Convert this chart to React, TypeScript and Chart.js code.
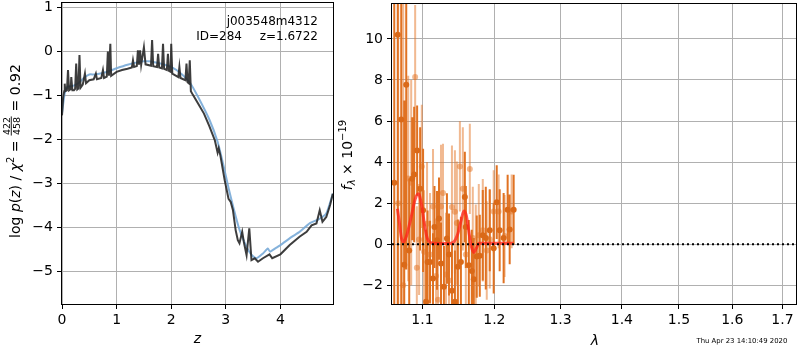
import React, { useEffect, useRef } from "react";
import { Chart, registerables } from "chart.js";

Chart.register(...registerables);

// ---------- data ----------
const zTicks = [0, 1, 2, 3, 4];
const logpTicks = [-5, -4, -3, -2, -1, 0, 1];
const lamTicks = [1.1, 1.2, 1.3, 1.4, 1.5, 1.6, 1.7];
const fluxTicks = [-2, 0, 2, 4, 6, 8, 10];

const zBlue = [0, 0.05, 0.1, 0.2, 0.3, 0.4, 0.5, 0.6, 0.8, 1.0, 1.2, 1.4, 1.5, 1.6, 1.8, 2.0, 2.2, 2.35, 2.5, 2.7, 2.85, 2.95, 3.05, 3.15, 3.25, 3.38, 3.47, 3.56, 3.68, 3.77, 3.81, 3.9, 4.0, 4.2, 4.35, 4.54, 4.69, 4.84, 4.96];
const logpBlue = [-1.4, -0.95, -0.8, -0.78, -0.72, -0.6, -0.52, -0.52, -0.47, -0.38, -0.3, -0.24, -0.22, -0.22, -0.27, -0.35, -0.52, -0.72, -1.05, -1.55, -2.05, -2.55, -3.1, -3.6, -4.05, -4.44, -4.62, -4.7, -4.59, -4.48, -4.55, -4.48, -4.4, -4.22, -4.1, -3.9, -3.82, -3.68, -3.23];

const zDark = [0, 0.02, 0.04, 0.05, 0.06, 0.09, 0.11, 0.13, 0.16, 0.17, 0.19, 0.22, 0.24, 0.26, 0.28, 0.3, 0.32, 0.34, 0.38, 0.42, 0.44, 0.5, 0.58, 0.62, 0.64, 0.72, 0.75, 0.77, 0.82, 0.84, 0.86, 0.885, 0.9, 1.0, 1.1, 1.2, 1.28, 1.3, 1.32, 1.37, 1.39, 1.41, 1.43, 1.45, 1.5, 1.53, 1.63, 1.65, 1.67, 1.74, 1.76, 1.78, 1.83, 1.85, 1.87, 1.92, 1.94, 1.96, 1.99, 2.0, 2.02, 2.13, 2.15, 2.17, 2.26, 2.28, 2.3, 2.32, 2.34, 2.36, 2.4, 2.5, 2.6, 2.7, 2.8, 2.85, 2.87, 2.9, 2.98, 3.05, 3.09, 3.13, 3.18, 3.22, 3.25, 3.3, 3.33, 3.38, 3.43, 3.47, 3.53, 3.59, 3.68, 3.8, 3.85, 4.0, 4.17, 4.35, 4.48, 4.57, 4.66, 4.72, 4.77, 4.84, 4.91, 4.96];
const logpDark = [-1.45, -1.05, -0.9, -0.73, -0.9, -0.88, -0.42, -0.88, -0.85, -0.58, -0.88, -0.88, -0.85, -0.27, -0.86, -0.84, -0.08, -0.82, -0.75, -0.5, -0.72, -0.65, -0.63, -0.5, -0.63, -0.6, -0.42, -0.6, -0.57, 0.0, -0.55, 0.18, -0.55, -0.46, -0.42, -0.39, -0.36, -0.2, -0.35, -0.33, 0.03, -0.3, 0.03, -0.3, 0.1, -0.29, -0.32, 0.26, -0.33, -0.35, -0.05, -0.36, -0.38, 0.18, -0.39, -0.42, -0.05, -0.44, -0.46, 0.18, -0.5, -0.58, -0.35, -0.6, -0.65, -0.27, -0.7, -0.72, -0.2, -0.9, -0.99, -1.2, -1.41, -1.7, -2.02, -2.3, -2.2, -2.36, -2.93, -3.35, -3.42, -3.6, -4.06, -4.29, -4.36, -4.1, -4.33, -4.63, -4.02, -4.74, -4.7, -4.78, -4.7, -4.61, -4.7, -4.61, -4.4, -4.21, -4.1, -3.95, -3.91, -3.61, -3.87, -3.76, -3.49, -3.23];

const lamDark = [1.0632, 1.0677, 1.0722, 1.0761, 1.0787, 1.0826, 1.0865, 1.0891, 1.093, 1.097, 1.1009, 1.1049, 1.1069, 1.1102, 1.1142, 1.1162, 1.1196, 1.1223, 1.125, 1.129, 1.1331, 1.1359, 1.14, 1.1441, 1.1482, 1.1524, 1.1579, 1.1593, 1.1635, 1.1677, 1.1705, 1.1747, 1.179, 1.1833, 1.1876, 1.1933, 1.199, 1.2034, 1.2077, 1.2135, 1.2194, 1.2224, 1.2283];
const fluxDark = [3.0, 10.2, 6.07, -1.0, 7.77, -0.3, 3.19, 3.4, 4.56, 2.7, 1.65, -2.8, -0.86, -0.86, -1.67, 0.84, 0.19, 1.25, -0.94, -2.07, 0.28, -0.5, -2.26, -2.8, -1.1, -0.86, 2.3, 0.84, -1.02, -1.3, -1.7, -0.6, -0.56, 0.44, 0.3, 0.68, -0.2, 2.05, 0.68, 0.3, 1.68, 0.72, 1.68];
const errDark = [20, 15, 12, 8, 9, 3.5, 3, 3.3, 2.2, 3, 3, 3.5, 2.5, 2, 2.2, 2, 2.4, 2, 2, 2, 2.2, 2, 2.3, 2.5, 2.3, 2.2, 2.2, 2, 2.2, 2, 2, 2, 2, 2.2, 2.5, 2, 2.2, 1.8, 2, 2.2, 1.7, 1.7, 1.7];

const lamLight = [1.0683, 1.0748, 1.0813, 1.0852, 1.0904, 1.0926, 1.0956, 1.0992, 1.1022, 1.1062, 1.1102, 1.1142, 1.1183, 1.1209, 1.125, 1.1277, 1.1318, 1.1359, 1.14, 1.1441, 1.1468, 1.151, 1.1551, 1.1593, 1.1649, 1.1691, 1.1733, 1.1776, 1.1833, 1.189, 1.1933, 1.199, 1.2062, 1.2149, 1.2253];
const fluxLight = [2, -2, 3.2, 3.0, 8.15, -1.15, 0.23, 3.79, -0.37, 1.0, -0.5, 1.84, -1.55, -2.7, 1.84, 2.49, -1.47, -1.76, 1.81, 1.58, 1.03, 3.79, 2.7, -0.5, 3.67, 0.3, -0.56, 0.44, 0.68, -0.3, 0.24, 1.6, 1.6, 0.4, 1.6];
const errLight = [20, 15, 5, 5, 3.5, 3, 2.7, 3, 3, 3, 3, 2.8, 2.8, 3, 3, 2.4, 3, 2.8, 3, 3, 3, 2.2, 3, 3, 2.2, 2.5, 2.5, 2.5, 2.5, 2.4, 2.4, 2, 1.8, 2, 1.8];

const lamModel = [1.0673, 1.07, 1.0725, 1.0752, 1.079, 1.085, 1.0905, 1.0947, 1.099, 1.103, 1.1066, 1.111, 1.12, 1.135, 1.142, 1.148, 1.153, 1.1565, 1.16, 1.164, 1.167, 1.1706, 1.174, 1.178, 1.19, 1.228];
const fluxModel = [1.73, 1.0, 0.3, 0.11, 0.4, 1.3, 2.2, 2.46, 1.9, 0.9, 0.28, 0.08, 0.04, 0.04, 0.1, 0.5, 1.2, 1.62, 1.4, 0.5, -0.1, -0.4, -0.2, 0.05, 0.05, 0.05];

const lamZero = [1.0603, 1.728];
const fluxZero = [0, 0];

// ---------- helpers ----------
const FONT = '"DejaVu Sans"';
const fmt = (v: number) => (v < 0 ? "\u2212" + Math.abs(v) : String(v));
const pts = (xs: number[], ys: number[]) => xs.map((x, i) => ({ x, y: ys[i] }));
const bars = (xs: number[], ys: number[], es: number[]) =>
  xs.flatMap((x, i) => [
    { x, y: ys[i] - es[i] },
    { x, y: ys[i] + es[i] },
    { x, y: null as any },
  ]);

type Seg = { t?: string; size: number; italic?: boolean; dy?: number; num?: string; den?: string };
const fontOf = (s: Seg) => `${s.italic ? "italic " : ""}${s.size}px ${FONT}`;

function drawRich(ctx: CanvasRenderingContext2D, segs: Seg[], cx: number, cy: number, rotate: boolean) {
  ctx.save();
  ctx.translate(cx, cy);
  if (rotate) ctx.rotate(-Math.PI / 2);
  ctx.fillStyle = "#000";
  ctx.textBaseline = "alphabetic";
  ctx.textAlign = "left";
  const widths = segs.map((s) => {
    ctx.font = fontOf(s);
    if (s.num !== undefined) return Math.max(ctx.measureText(s.num).width, ctx.measureText(s.den || "").width) + 2;
    return ctx.measureText(s.t || "").width;
  });
  const total = widths.reduce((a, b) => a + b, 0);
  let x = -total / 2;
  segs.forEach((s, i) => {
    ctx.font = fontOf(s);
    const w = widths[i];
    if (s.num !== undefined) {
      ctx.textAlign = "center";
      ctx.fillText(s.num, x + w / 2, -10.5);
      ctx.fillText(s.den || "", x + w / 2, 0);
      ctx.fillRect(x + 0.5, -9.2, w - 1, 0.9);
      ctx.textAlign = "left";
    } else {
      ctx.fillText(s.t || "", x, s.dy || 0);
    }
    x += w;
  });
  ctx.restore();
}

const framePlugin = {
  id: "frame",
  afterDatasetsDraw(chart: any) {
    const { ctx, chartArea: a } = chart;
    ctx.save();
    ctx.strokeStyle = "#000";
    ctx.lineWidth = 1;
    ctx.strokeRect(Math.round(a.left) - 0.5, Math.round(a.top) - 0.5, Math.round(a.right - a.left) + 1, Math.round(a.bottom - a.top) + 1);
    ctx.restore();
  },
};

const gridOpts = {
  color: "#b0b0b0",
  lineWidth: 1,
  drawTicks: true,
  tickLength: 5,
  tickColor: "#000",
  tickWidth: 1,
};
const tickFont = { family: "DejaVu Sans", size: 14 };

const fixSize = (w: number | null, h: number | null) => (s: any) => {
  if (w !== null) s.width = w;
  if (h !== null) s.height = h;
  s.paddingTop = 0;
  s.paddingBottom = 0;
  s.paddingLeft = 0;
  s.paddingRight = 0;
};

function leftTexts(chart: any) {
  const ctx: CanvasRenderingContext2D = chart.ctx;
  ctx.save();
  ctx.fillStyle = "#000";
  ctx.font = `12px ${FONT}`;
  ctx.textAlign = "right";
  ctx.textBaseline = "alphabetic";
  ctx.fillText("j003548m4312", 318, 25);
  ctx.fillText("ID=284", 242, 39.5);
  ctx.fillText("z=1.6722", 318, 39.5);
  ctx.font = `italic 14px ${FONT}`;
  ctx.textAlign = "center";
  ctx.fillText("z", 197.5, 343);
  ctx.restore();
  drawRich(
    ctx,
    [
      { t: "log ", size: 14 },
      { t: "p", size: 14, italic: true },
      { t: "(", size: 14 },
      { t: "z", size: 14, italic: true },
      { t: ") / ", size: 14 },
      { t: "\u03c7", size: 14, italic: true },
      { t: "2", size: 10, dy: -6 },
      { t: " = ", size: 14 },
      { num: "422", den: "458", size: 9.5 },
      { t: " = 0.92", size: 14 },
    ],
    20,
    151,
    true
  );
}

function rightTexts(chart: any) {
  const ctx: CanvasRenderingContext2D = chart.ctx;
  ctx.save();
  ctx.fillStyle = "#000";
  ctx.font = `italic 14px ${FONT}`;
  ctx.textAlign = "center";
  ctx.textBaseline = "alphabetic";
  ctx.fillText("\u03bb", 258, 345);
  ctx.font = `6.9px ${FONT}`;
  ctx.textAlign = "right";
  ctx.fillText("Thu Apr 23 14:10:49 2020", 450.3, 342.5);
  ctx.restore();
  drawRich(
    ctx,
    [
      { t: "f", size: 14, italic: true },
      { t: "\u03bb", size: 10, italic: true, dy: 3 },
      { t: " \u00d7 10", size: 14 },
      { t: "\u221219", size: 10, dy: -6 },
    ],
    15,
    155,
    true
  );
}

const leftTextPlugin = { id: "leftText", afterDraw: leftTexts };
const rightTextPlugin = { id: "rightText", afterDraw: rightTexts };

export default function App() {
  const leftRef = useRef<HTMLCanvasElement>(null);
  const rightRef = useRef<HTMLCanvasElement>(null);

  useEffect(() => {
    const left = new Chart(leftRef.current!, {
      type: "line",
      data: {
        datasets: [
          {
            data: pts(zDark, logpDark),
            borderColor: "rgba(40,40,40,0.9)",
            borderWidth: 2,
            pointRadius: 0,
            tension: 0,
            clip: 0,
          } as any,
          {
            data: pts(zBlue, logpBlue),
            borderColor: "rgba(120,170,215,0.9)",
            borderWidth: 2,
            pointRadius: 0,
            tension: 0.2,
            clip: 0,
          } as any,
        ],
      },
      options: {
        responsive: false,
        animation: false,
        devicePixelRatio: 1,
        events: [],
        layout: { padding: { left: 0, right: 4, top: 3, bottom: 0 } },
        plugins: { legend: { display: false }, tooltip: { enabled: false } },
        scales: {
          x: {
            type: "linear",
            min: 0,
            max: 4.963,
            bounds: "data",
            afterBuildTicks: (s: any) => {
              s.ticks = zTicks.map((v) => ({ value: v }));
            },
            afterFit: fixSize(null, 46),
            grid: gridOpts,
            border: { display: false },
            ticks: { color: "#000", font: tickFont, padding: 3, maxRotation: 0, autoSkip: false, callback: (v: any) => fmt(Number(v)) },
          },
          y: {
            type: "linear",
            min: -5.74,
            max: 1.105,
            bounds: "data",
            afterBuildTicks: (s: any) => {
              s.ticks = logpTicks.map((v) => ({ value: v }));
            },
            afterFit: fixSize(62, null),
            grid: gridOpts,
            border: { display: false },
            ticks: { color: "#000", font: tickFont, padding: 4, autoSkip: false, callback: (v: any) => fmt(Number(v)) },
          },
        },
      } as any,
      plugins: [framePlugin, leftTextPlugin],
    });

    const dark = "rgb(224,114,34)";
    const darkDot = "rgb(218,105,24)";
    const light = "rgba(228,116,36,0.5)";

    const right = new Chart(rightRef.current!, {
      type: "line",
      data: {
        datasets: [
          {
            data: pts(lamZero, fluxZero),
            borderColor: "#000",
            borderWidth: 2,
            borderDash: [2, 3],
            pointRadius: 0,
            clip: 0,
          } as any,
          {
            data: pts(lamModel, fluxModel),
            borderColor: "rgba(255,35,25,0.75)",
            borderWidth: 3,
            pointRadius: 0,
            cubicInterpolationMode: "monotone",
            clip: 0,
          } as any,
          {
            data: pts(lamDark, fluxDark),
            showLine: false,
            pointRadius: 3,
            pointBackgroundColor: darkDot,
            pointBorderWidth: 0,
            clip: 0,
          } as any,
          {
            data: bars(lamDark, fluxDark, errDark),
            borderColor: dark,
            borderWidth: 2,
            pointRadius: 0,
            spanGaps: false,
            clip: 0,
          } as any,
          {
            data: pts(lamLight, fluxLight),
            showLine: false,
            pointRadius: 3,
            pointBackgroundColor: light,
            pointBorderWidth: 0,
            clip: 0,
          } as any,
          {
            data: bars(lamLight, fluxLight, errLight),
            borderColor: light,
            borderWidth: 2,
            pointRadius: 0,
            spanGaps: false,
            clip: 0,
          } as any,
        ],
      },
      options: {
        responsive: false,
        animation: false,
        devicePixelRatio: 1,
        events: [],
        layout: { padding: { left: 0, right: 2, top: 3, bottom: 0 } },
        plugins: { legend: { display: false }, tooltip: { enabled: false } },
        scales: {
          x: {
            type: "logarithmic",
            min: 1.0603,
            max: 1.728,
            bounds: "data",
            afterBuildTicks: (s: any) => {
              s.ticks = lamTicks.map((v) => ({ value: v }));
            },
            afterFit: fixSize(null, 46),
            grid: gridOpts,
            border: { display: false },
            ticks: { color: "#000", font: tickFont, padding: 3, maxRotation: 0, autoSkip: false, callback: (v: any) => Number(v).toFixed(1) },
          },
          y: {
            type: "linear",
            min: -2.91,
            max: 11.7,
            bounds: "data",
            afterBuildTicks: (s: any) => {
              s.ticks = fluxTicks.map((v) => ({ value: v }));
            },
            afterFit: fixSize(55, null),
            grid: gridOpts,
            border: { display: false },
            ticks: { color: "#000", font: tickFont, padding: 4, autoSkip: false, callback: (v: any) => fmt(Number(v)) },
          },
        },
      } as any,
      plugins: [framePlugin, rightTextPlugin],
    });

    return () => {
      left.destroy();
      right.destroy();
    };
  }, []);

  return (
    <div style={{ position: "fixed", left: 0, top: 0, width: 800, height: 350, background: "#fff" }}>
      <canvas ref={leftRef} width={337} height={350} style={{ position: "absolute", left: 0, top: 0, width: 337, height: 350 }} />
      <canvas ref={rightRef} width={463} height={350} style={{ position: "absolute", left: 337, top: 0, width: 463, height: 350 }} />
    </div>
  );
}
